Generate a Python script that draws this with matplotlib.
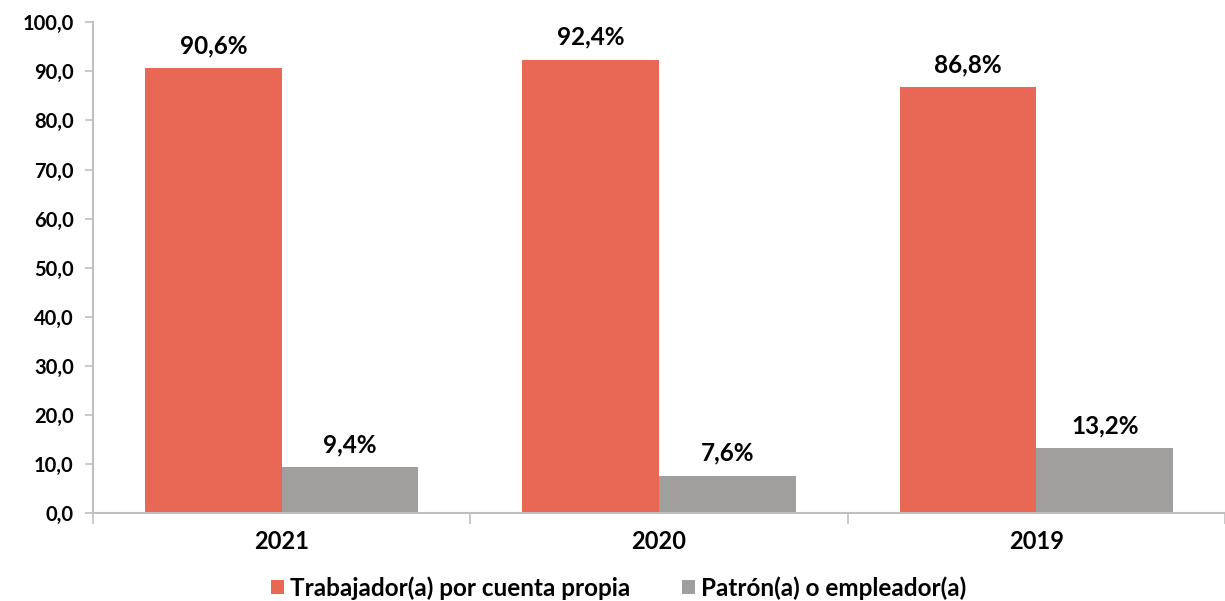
import matplotlib
matplotlib.use("Agg")
import matplotlib.pyplot as plt
import numpy as np

categories = ["2021", "2020", "2019"]
series_names = ["Trabajador(a) por cuenta propia", "Patrón(a) o empleador(a)"]
trabajador = [90.6, 92.4, 86.8]
patron = [9.4, 7.6, 13.2]
yticks = [0, 10, 20, 30, 40, 50, 60, 70, 80, 90, 100]

red = "#E96855"
gray = "#A09F9D"
spine_c = "#BFBFBF"

plt.rcParams['font.family'] = ['Lato', 'DejaVu Sans']

fig = plt.figure(figsize=(12.25, 6.01), dpi=100)
ax = fig.add_axes([0.076, 0.146, 0.924, 0.817])

x = np.arange(len(categories))
w = 0.362
b1 = ax.bar(x - w/2, trabajador, w, color=red, label=series_names[0], zorder=2)
b2 = ax.bar(x + w/2, patron, w, color=gray, label=series_names[1], zorder=2)

def fmt(v):
    return f"{v:.1f}".replace(".", ",") + "%"

for bars, vals in ((b1, trabajador), (b2, patron)):
    for r, v in zip(bars, vals):
        ax.annotate(fmt(v), (r.get_x() + r.get_width()/2, v), xytext=(0, 8),
                    textcoords="offset points", ha="center", va="bottom",
                    fontsize=17.5, fontweight="bold")

ax.set_xlim(-0.5, len(categories) - 0.5)
ax.set_ylim(0, 100)
ax.set_yticks(yticks)
ax.set_yticklabels([f"{t:.1f}".replace(".", ",") for t in yticks], fontsize=14.5, fontweight="bold")
ax.set_xticks(x)
ax.set_xticklabels(categories, fontsize=17, fontweight="bold")
ax.tick_params(axis="x", length=0, pad=12)
ax.set_xticks(np.arange(-0.5, len(categories) + 0.5, 1), minor=True)
ax.tick_params(axis="x", which="minor", length=8, color=spine_c, width=1.2)
ax.tick_params(axis="y", length=6, color=spine_c, width=1.2, pad=8)

for s in ["top", "right"]:
    ax.spines[s].set_visible(False)
for s in ["left", "bottom"]:
    ax.spines[s].set_color(spine_c)
    ax.spines[s].set_linewidth(1.5)

leg = fig.legend(handles=[b1, b2], labels=series_names, loc="lower center",
                 bbox_to_anchor=(0.505, -0.034), ncol=2, frameon=False,
                 prop={"size": 17.5, "weight": "bold"}, handlelength=0.55,
                 handleheight=0.55, handletextpad=0.25, columnspacing=2.1)

fig.savefig("out.png", dpi=100)
